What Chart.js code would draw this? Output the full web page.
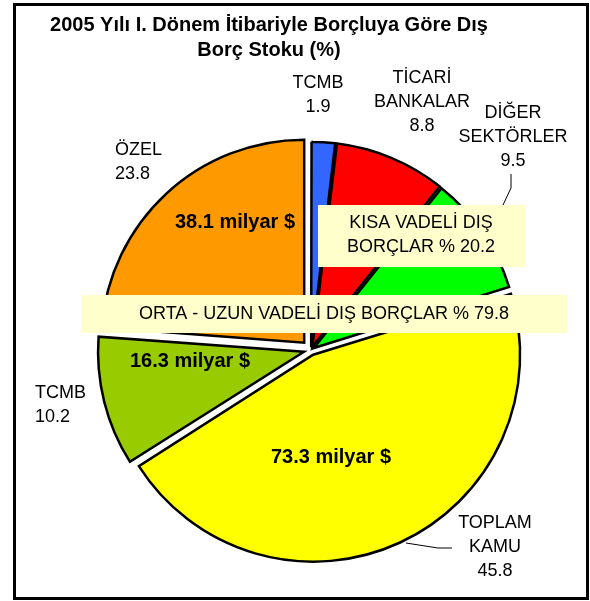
<!DOCTYPE html>
<html>
<head>
<meta charset="utf-8">
<script src="https://cdn.jsdelivr.net/npm/chart.js@4"></script>
<style>
  html, body { margin: 0; padding: 0; background: #fff; }
  #pie { display: block; }
</style>
</head>
<body>
<canvas id="pie" width="590" height="601"></canvas>
<script>
// Data
const sliceNames = ['TCMB', 'TİCARİ BANKALAR', 'DİĞER SEKTÖRLER', 'TOPLAM KAMU', 'TCMB', 'ÖZEL'];
const sharePct = [1.9, 8.8, 9.5, 45.8, 10.2, 23.8];
const amountBn = [null, null, null, 73.3, 16.3, 38.1];
const groupTexts = [['KISA VADELİ DIŞ', 'BORÇLAR % 20.2'], ['ORTA - UZUN VADELİ DIŞ BORÇLAR % 79.8']];
const titleLines = ['2005 Yılı I. Dönem İtibariyle Borçluya Göre Dış', 'Borç Stoku (%)'];

const sliceColors = ['#3366FF', '#FF0000', '#00FF00', '#FFFF00', '#99CC00', '#FF9900'];
// chart.js moves an arc by roughly offset/4..offset/2, so these are bigger than the px gap
const sliceOffsets = [11, 14, 14, 21, 29, 40];
const FONT = "'Liberation Sans', Arial, sans-serif";

// where the outside labels sit, relative to the pie centre
const outerLabelPos = [
    { dx: 7, dy: -267, align: 'center' },
    { dx: 111, dy: -272, align: 'center' },
    { dx: 202, dy: -237, align: 'center' },
    { dx: 184, dy: 173, align: 'center' },
    { dx: -276, dy: 43, align: 'left' },
    { dx: -196, dy: -200, align: 'left' }
];
const innerLabelPos = [null, null, null, { dx: 20, dy: 107 }, { dx: -121, dy: 11 }, { dx: -76, dy: -128 }];
const leaderLines = [
    [[200, -176], [200, -162], [192, -145]],
    [[141, 198], [127, 198], [95, 193]]
];

const decorPlugin = {
    id: 'decor',
    beforeDraw(chart) {
        const ctx = chart.ctx;
        ctx.save();
        ctx.fillStyle = '#fff';
        ctx.fillRect(0, 0, chart.width, chart.height);
        ctx.restore();
    },
    afterDatasetsDraw(chart) {
        const ctx = chart.ctx;
        const arcs = chart.getDatasetMeta(0).data;
        const cx = arcs[0].x, cy = arcs[0].y;
        ctx.save();

        // title
        ctx.fillStyle = '#000';
        ctx.textBaseline = 'middle';
        ctx.textAlign = 'center';
        ctx.font = 'bold 20px ' + FONT;
        titleLines.forEach((t, k) => ctx.fillText(t, 269, 25 + k * 25));

        // outside labels: name + share
        ctx.font = '18px ' + FONT;
        sliceNames.forEach((name, i) => {
            const p = outerLabelPos[i];
            const lines = name.split(' ').concat([sharePct[i].toFixed(1)]);
            ctx.textAlign = p.align;
            lines.forEach((t, k) => ctx.fillText(t, cx + p.dx, cy + p.dy + k * 24));
        });

        // leader lines
        ctx.strokeStyle = '#000';
        ctx.lineWidth = 1;
        leaderLines.forEach(pts => {
            ctx.beginPath();
            pts.forEach((pt, k) => {
                if (k === 0) ctx.moveTo(cx + pt[0], cy + pt[1]);
                else ctx.lineTo(cx + pt[0], cy + pt[1]);
            });
            ctx.stroke();
        });

        // amounts inside the slices
        ctx.font = 'bold 20px ' + FONT;
        ctx.textAlign = 'center';
        amountBn.forEach((v, i) => {
            if (v === null) return;
            const p = innerLabelPos[i];
            ctx.fillText(v.toFixed(1) + ' milyar $', cx + p.dx, cy + p.dy);
        });

        // group boxes
        ctx.font = '18px ' + FONT;
        ctx.fillStyle = '#FFFFCC';
        ctx.fillRect(cx + 7, cy - 145, 207, 62);
        ctx.fillRect(cx - 230, cy - 55, 486, 38);
        ctx.fillStyle = '#000';
        ctx.fillText(groupTexts[0][0], cx + 110, cy - 127);
        ctx.fillText(groupTexts[0][1], cx + 110, cy - 103);
        ctx.fillText(groupTexts[1][0], cx + 13, cy - 36);

        // frame
        ctx.strokeStyle = '#000';
        ctx.lineWidth = 3;
        ctx.strokeRect(14.5, 4.5, 573, 594);
        ctx.restore();
    }
};

new Chart(document.getElementById('pie'), {
    type: 'pie',
    data: {
        labels: sliceNames,
        datasets: [{
            data: sharePct,
            backgroundColor: sliceColors,
            borderColor: '#000',
            borderWidth: 2.5,
            borderJoinStyle: 'miter',
            offset: sliceOffsets
        }]
    },
    options: {
        responsive: false,
        animation: false,
        events: [],
        radius: 203,
        layout: { padding: { left: 32, right: 0, top: 100, bottom: 1 } },
        plugins: {
            legend: { display: false },
            tooltip: { enabled: false },
            title: { display: false }
        }
    },
    plugins: [decorPlugin]
});
</script>
</body>
</html>
